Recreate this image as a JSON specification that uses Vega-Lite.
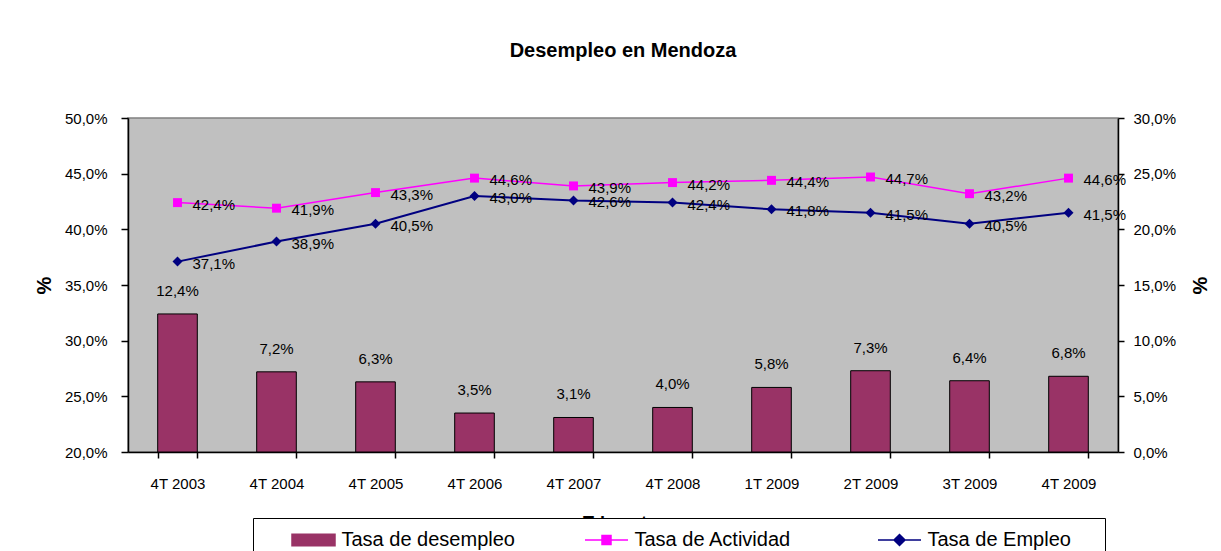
{
  "$schema": "https://vega.github.io/schema/vega-lite/v6.json",
  "width": 990,
  "height": 334,
  "autosize": {"type": "none"},
  "padding": {"left": 128, "top": 118, "right": 103, "bottom": 99},
  "background": "white",
  "title": {"text": "Desempleo en Mendoza", "font": "Liberation Sans", "fontSize": 20, "fontWeight": "bold", "color": "black", "anchor": "middle", "frame": "group", "baseline": "alphabetic", "offset": 34},
  "data": {"values": [
    {"t": "4T 2003", "desempleo": 0.124, "actividad": 0.424, "empleo": 0.371},
    {"t": "4T 2004", "desempleo": 0.072, "actividad": 0.419, "empleo": 0.389},
    {"t": "4T 2005", "desempleo": 0.063, "actividad": 0.433, "empleo": 0.405},
    {"t": "4T 2006", "desempleo": 0.035, "actividad": 0.446, "empleo": 0.430},
    {"t": "4T 2007", "desempleo": 0.031, "actividad": 0.439, "empleo": 0.426},
    {"t": "4T 2008", "desempleo": 0.040, "actividad": 0.442, "empleo": 0.424},
    {"t": "1T 2009", "desempleo": 0.058, "actividad": 0.444, "empleo": 0.418},
    {"t": "2T 2009", "desempleo": 0.073, "actividad": 0.447, "empleo": 0.415},
    {"t": "3T 2009", "desempleo": 0.064, "actividad": 0.432, "empleo": 0.405},
    {"t": "4T 2009", "desempleo": 0.068, "actividad": 0.446, "empleo": 0.415}
  ]},
  "config": {
    "locale": {"number": {"decimal": ",", "thousands": ".", "grouping": [3], "currency": ["", " €"]}},
    "font": "Liberation Sans",
    "view": {"fill": "#C0C0C0", "stroke": "#808080", "strokeWidth": 1.5},
    "axis": {"domainColor": "black", "tickColor": "black", "labelColor": "black", "labelFont": "Liberation Sans", "labelFontSize": 15, "titleFont": "Liberation Sans", "titleColor": "black", "grid": false, "domainWidth": 1.5, "tickWidth": 1.5}
  },
  "encoding": {
    "x": {"field": "t", "type": "nominal", "sort": null,
      "scale": {"paddingInner": 0.6, "paddingOuter": 0.3},
      "axis": {"title": "Trimestre", "labelAngle": 0, "tickBand": "extent", "tickSize": 6, "labelPadding": 18, "titleFontSize": 18, "titleFontWeight": "bold", "titlePadding": 23}}
  },
  "layer": [
    {
      "encoding": {
        "y": {"field": "desempleo", "type": "quantitative",
          "scale": {"domain": [0, 0.3], "nice": false, "zero": true},
          "axis": {"orient": "right", "title": "%", "format": ".1%", "values": [0, 0.05, 0.1, 0.15, 0.2, 0.25, 0.3], "tickSize": 6, "labelPadding": 9, "titleAngle": -90, "titleFontSize": 20, "titleFontWeight": "bold", "titlePadding": 35}}
      },
      "layer": [
        {"mark": {"type": "bar"},
         "encoding": {"color": {"datum": "Tasa de desempleo", "type": "nominal",
           "scale": {"domain": ["Tasa de desempleo", "Tasa de Actividad", "Tasa de Empleo"], "range": ["#993366", "#FF00FF", "#000080"]},
           "legend": {"orient": "none", "legendX": 125, "legendY": 400, "direction": "horizontal",
             "title": " ", "titleOrient": "right", "titlePadding": 23, "titleFontSize": 20,
             "labelFontSize": 20, "labelFont": "Liberation Sans", "labelColor": "black", "symbolSize": 400,
             "labelOffset": 17, "columnPadding": 42, "gridAlign": "all", "padding": 11, "symbolOffset": 38.5,
             "strokeColor": "black", "fillColor": "white", "labelLimit": 400}}}},
        {"mark": {"type": "bar", "fillOpacity": 0, "stroke": "black", "strokeWidth": 1}},
        {"mark": {"type": "text", "baseline": "alphabetic", "dy": -18, "fontSize": 15, "color": "black"},
         "encoding": {"text": {"field": "desempleo", "type": "quantitative", "format": ".1%"}}}
      ]
    },
    {
      "layer": [
        {"mark": {"type": "line", "strokeWidth": 1.5, "point": {"shape": "square", "size": 80, "filled": true}},
         "encoding": {
           "y": {"field": "actividad", "type": "quantitative",
             "scale": {"domain": [0.2, 0.5], "nice": false, "zero": false},
             "axis": {"orient": "left", "title": "%", "format": ".1%", "values": [0.2, 0.25, 0.3, 0.35, 0.4, 0.45, 0.5], "tickSize": 7, "labelPadding": 14, "titleAngle": -90, "titleFontSize": 20, "titleFontWeight": "bold", "titlePadding": 10}},
           "color": {"datum": "Tasa de Actividad", "type": "nominal"}}},
        {"mark": {"type": "line", "strokeWidth": 2, "point": {"shape": "diamond", "size": 100, "filled": true}},
         "encoding": {
           "y": {"field": "empleo", "type": "quantitative", "axis": {"title": "%"}},
           "color": {"datum": "Tasa de Empleo", "type": "nominal"}}},
        {"mark": {"type": "point", "filled": true, "size": 0},
         "encoding": {
           "y": {"field": "actividad", "type": "quantitative", "axis": {"title": "%"}},
           "shape": {"datum": "Tasa de Actividad", "type": "nominal",
             "scale": {"domain": ["Tasa de desempleo", "Tasa de Actividad", "Tasa de Empleo"],
               "range": ["M-2.15,-0.585H2.15V0.585H-2.15Z", "M-2.15,0H2.15M-0.45,-0.45H0.45V0.45H-0.45Z", "M-2.15,0H2.15M0,-0.55L0.55,0L0,0.55L-0.55,0Z"]},
             "legend": {"orient": "none", "legendX": 125, "legendY": 400, "direction": "horizontal", "title": " ", "titleOrient": "right"}}}},
        {"mark": {"type": "text", "align": "left", "baseline": "alphabetic", "dx": 15, "dy": 7, "fontSize": 15, "color": "black"},
         "encoding": {
           "y": {"field": "actividad", "type": "quantitative", "axis": {"title": "%"}},
           "text": {"field": "actividad", "type": "quantitative", "format": ".1%"}}},
        {"mark": {"type": "text", "align": "left", "baseline": "alphabetic", "dx": 15, "dy": 7, "fontSize": 15, "color": "black"},
         "encoding": {
           "y": {"field": "empleo", "type": "quantitative", "axis": {"title": "%"}},
           "text": {"field": "empleo", "type": "quantitative", "format": ".1%"}}}
      ]
    }
  ],
  "resolve": {"scale": {"y": "independent"}}
}
